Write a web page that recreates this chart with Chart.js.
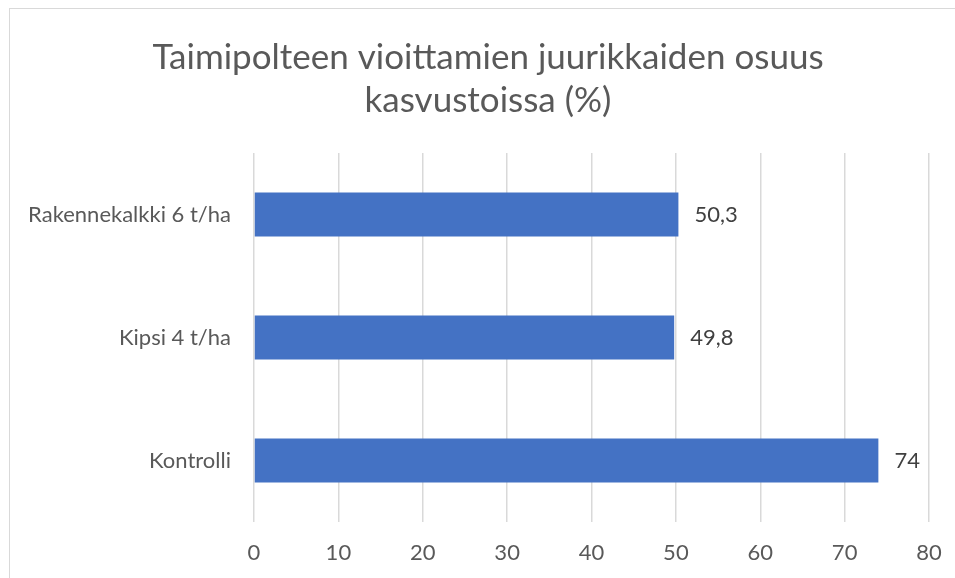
<!DOCTYPE html>
<html><head><meta charset="utf-8">
<script src="https://cdn.jsdelivr.net/npm/chart.js@4"></script>
<style>
html,body{margin:0;padding:0;background:#fff;}
#wrap{position:relative;width:955px;height:578px;overflow:hidden;}
#frame{position:absolute;left:9px;top:8px;width:1000px;height:700px;border:1px solid #d9d9d9;box-sizing:border-box;}
canvas{position:absolute;left:0;top:0;}
</style></head>
<body>
<div id="wrap"><div id="frame"></div><canvas id="c" width="976" height="578"></canvas></div>
<script>
const categories = ["Rakennekalkki 6 t/ha", "Kipsi 4 t/ha", "Kontrolli"];
const values = [50.3, 49.8, 74];
const valueLabels = ["50,3", "49,8", "74"];
const titleLines = ["Taimipolteen vioittamien juurikkaiden osuus", "kasvustoissa (%)"];

const FONT = "Lato, 'Open Sans', sans-serif";

const labelPlugin = {
  id: 'barLabels',
  afterLayout(chart) {
    // center the title over the whole chart frame
    if (chart.titleBlock) {
      chart.titleBlock.left = 0;
      chart.titleBlock.right = 976;
      chart.titleBlock.width = 976;
    }
  },
  afterDatasetsDraw(chart) {
    const ctx = chart.ctx;
    const meta = chart.getDatasetMeta(0);
    ctx.save();
    ctx.font = "22px " + FONT;
    ctx.fillStyle = "#404040";
    ctx.textBaseline = "middle";
    ctx.textAlign = "left";
    meta.data.forEach((el, i) => {
      ctx.fillText(valueLabels[i], el.x + 16, el.y);
    });
    ctx.restore();
  }
};

new Chart(document.getElementById('c'), {
  type: 'bar',
  data: {
    labels: categories,
    datasets: [{
      data: values,
      backgroundColor: '#4472C4',
      borderColor: '#4472C4',
      borderWidth: 0,
      categoryPercentage: 1,
      barPercentage: 0.358
    }]
  },
  options: {
    indexAxis: 'y',
    responsive: false,
    animation: false,
    devicePixelRatio: 1,
    layout: { padding: { left: 0, right: 47, top: 0, bottom: 0 } },
    plugins: {
      legend: { display: false },
      tooltip: { enabled: false },
      title: {
        display: true,
        text: titleLines,
        color: '#595959',
        font: { family: FONT, size: 35, weight: 'normal', lineHeight: 1.23 },
        padding: { top: 36, bottom: 31 }
      }
    },
    scales: {
      x: {
        min: 0, max: 80,
        ticks: { stepSize: 10, color: '#595959', font: { family: FONT, size: 22 }, padding: 18 },
        grid: { color: '#d9d9d9', lineWidth: 1.5, drawTicks: false },
        border: { display: false },
        afterFit(s) { s.height = 56; }
      },
      y: {
        ticks: { color: '#595959', font: { family: FONT, size: 22 }, padding: 23 },
        grid: { display: false, drawTicks: false },
        border: { display: false },
        afterFit(s) { s.width = 254; }
      }
    }
  },
  plugins: [labelPlugin]
});
</script>
</body></html>
